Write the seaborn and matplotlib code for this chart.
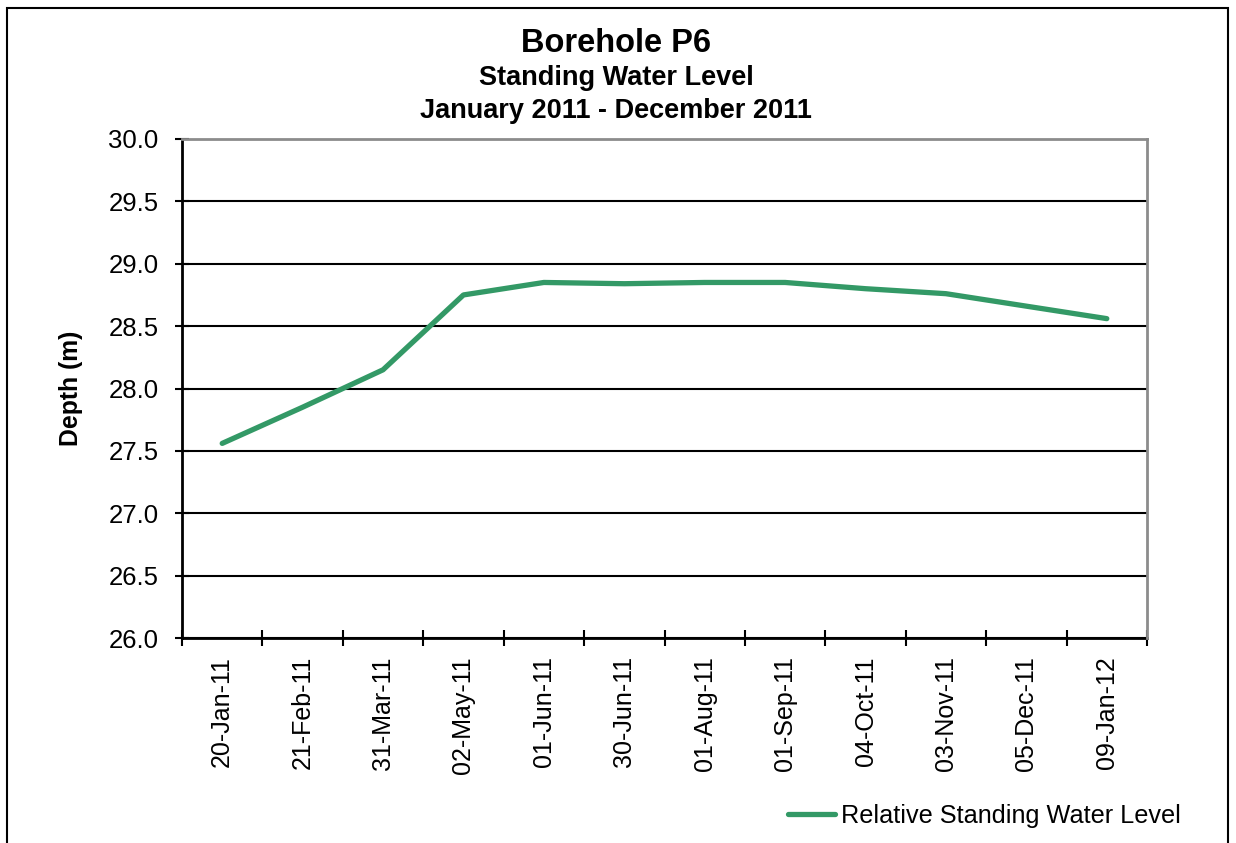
import matplotlib
matplotlib.use("Agg")
import matplotlib.pyplot as plt
import seaborn as sns
import pandas as pd
from matplotlib.patches import Rectangle

dates = ["20-Jan-11", "21-Feb-11", "31-Mar-11", "02-May-11", "01-Jun-11", "30-Jun-11",
         "01-Aug-11", "01-Sep-11", "04-Oct-11", "03-Nov-11", "05-Dec-11", "09-Jan-12"]
depth = [27.56, 27.85, 28.15, 28.75, 28.85, 28.84, 28.85, 28.85, 28.80, 28.76, 28.66, 28.56]
series_name = "Relative Standing Water Level"

df = pd.DataFrame({"date": dates, "depth": depth})

sns.set_style("white", {"xtick.bottom": True, "ytick.left": True,
                        "text.color": "black", "axes.labelcolor": "black",
                        "xtick.color": "black", "ytick.color": "black"})
plt.rcParams["font.family"] = ["Liberation Sans", "DejaVu Sans"]

fig = plt.figure(figsize=(12.36, 8.43), dpi=100)
ax = fig.add_axes([182 / 1236, 1 - 638 / 843, (1147 - 182) / 1236, (638 - 139) / 843])

sns.lineplot(data=df, x="date", y="depth", sort=False, color="#339966",
             linewidth=3.8, ax=ax, label=series_name, legend=False)

n = len(dates)
ax.set_xlim(-0.5, n - 0.5)
ax.set_ylim(26.0, 30.0)
ax.set_yticks([26.0 + 0.5 * i for i in range(9)])
ax.set_yticklabels([f"{26.0 + 0.5 * i:.1f}" for i in range(9)], fontsize=18.5)
ax.set_xticks(range(n))
ax.set_xticklabels(dates, rotation=90, fontsize=18)
ax.set_xticks([i - 0.5 for i in range(n + 1)], minor=True)
ax.tick_params(axis="x", which="major", length=0, pad=13)
ax.tick_params(axis="x", which="minor", direction="inout", length=12, width=1.5, color="black")
ax.tick_params(axis="y", direction="inout", length=10, width=1.5, color="black", pad=12)

ax.grid(axis="y", color="black", linewidth=1.5)
ax.set_axisbelow(True)
for s in ["left", "bottom"]:
    ax.spines[s].set_color("black")
    ax.spines[s].set_linewidth(2)
for s in ["top", "right"]:
    ax.spines[s].set_color("#8c8c8c")
    ax.spines[s].set_linewidth(2)
    ax.spines[s].set_zorder(3)

ax.set_xlabel("")
ax.set_ylabel("Depth (m)", fontsize=17.8, fontweight="bold")
ax.yaxis.set_label_coords(-99 / 965, 0.5)

fig.text(0.4985, 1 - 43 / 843, "Borehole P6", ha="center", va="center", fontsize=23.5, fontweight="bold")
fig.text(0.4985, 1 - 78 / 843, "Standing Water Level", ha="center", va="center", fontsize=19.5, fontweight="bold")
fig.text(0.4985, 1 - 111 / 843, "January 2011 - December 2011", ha="center", va="center", fontsize=19.5, fontweight="bold")

handles, labels = ax.get_legend_handles_labels()
fig.legend(handles, labels, loc="center left", bbox_to_anchor=(765 / 1236, 1 - 816 / 843),
           frameon=False, fontsize=18.2, handlelength=1.85, handletextpad=0.25)

fig.patches.append(Rectangle((7 / 1236, -0.05), (1228 - 7) / 1236, 1 - 8 / 843 + 0.05,
                             transform=fig.transFigure, fill=False, edgecolor="black",
                             linewidth=1.5, figure=fig))

fig.savefig("out.png", dpi=100)
